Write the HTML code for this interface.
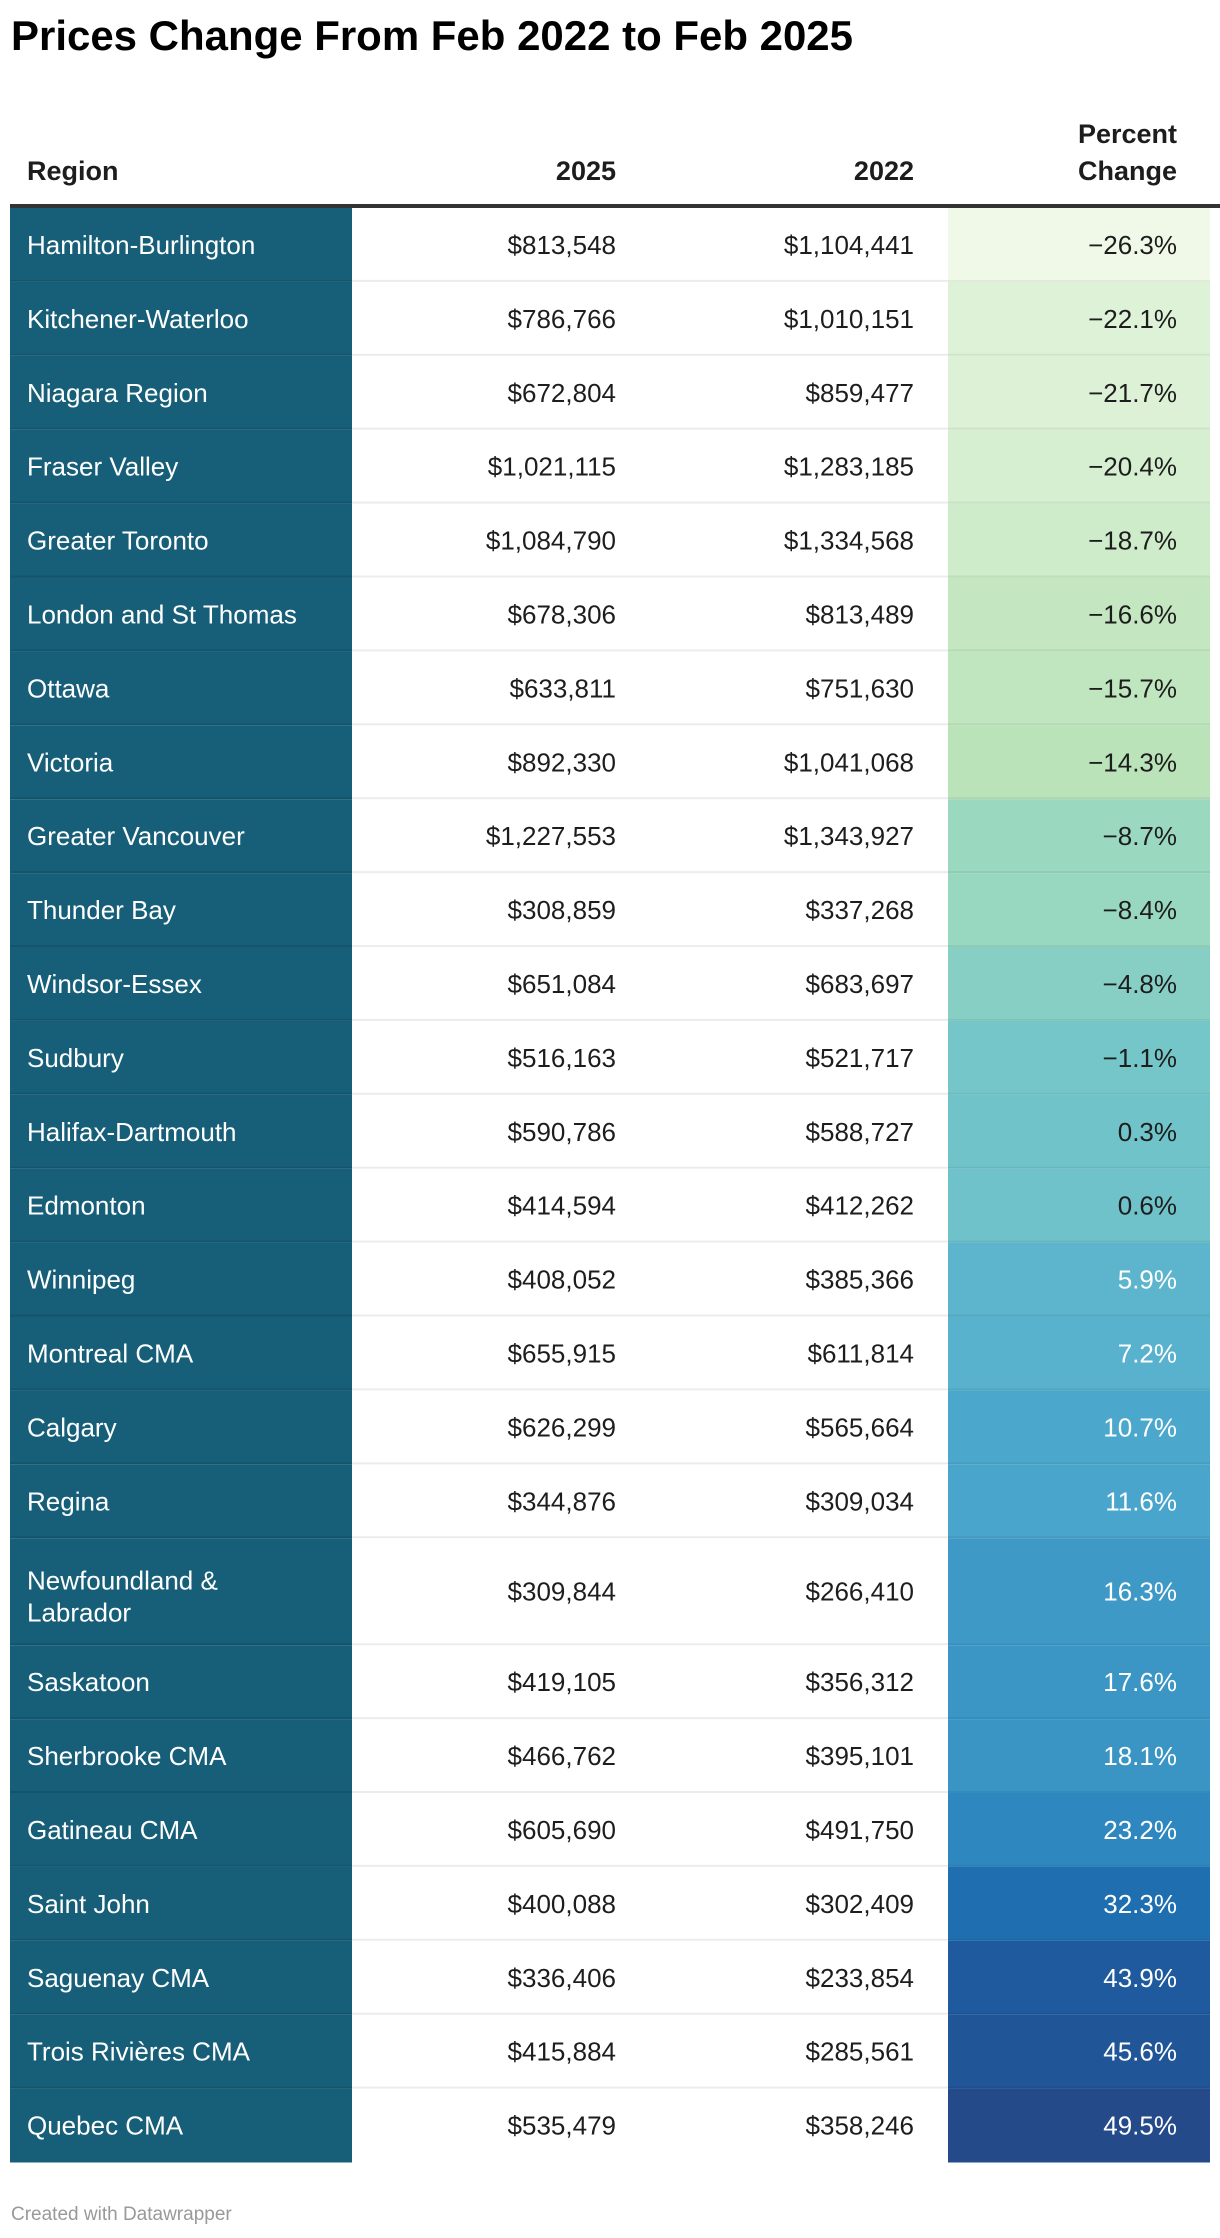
<!DOCTYPE html>
<html><head><meta charset="utf-8"><style>
html,body{margin:0;padding:0;background:#fff;}
svg{display:block;font-family:"Liberation Sans",Arial,sans-serif;}
</style></head><body>
<svg id="chart" width="1220" height="2238" viewBox="0 0 1220 2238" xmlns="http://www.w3.org/2000/svg">
<text x="11" y="50" font-size="42" font-weight="bold" fill="#000" textLength="842" lengthAdjust="spacingAndGlyphs">Prices Change From Feb 2022 to Feb 2025</text>
<g font-size="27" font-weight="bold" fill="#1d1d1d">
<text x="27" y="180">Region</text>
<text x="616" y="180" text-anchor="end">2025</text>
<text x="914" y="180" text-anchor="end">2022</text>
<text x="1177" y="143" text-anchor="end">Percent</text>
<text x="1177" y="180" text-anchor="end">Change</text>
</g>
<rect x="10" y="204" width="1210" height="4" fill="#333"/>
<g id="rows"></g>
<text x="11" y="2220" font-size="19" fill="#999">Created with Datawrapper</text>
</svg>
<script>
const regions = ["Hamilton-Burlington","Kitchener-Waterloo","Niagara Region","Fraser Valley","Greater Toronto","London and St Thomas","Ottawa","Victoria","Greater Vancouver","Thunder Bay","Windsor-Essex","Sudbury","Halifax-Dartmouth","Edmonton","Winnipeg","Montreal CMA","Calgary","Regina","Newfoundland & Labrador","Saskatoon","Sherbrooke CMA","Gatineau CMA","Saint John","Saguenay CMA","Trois Rivières CMA","Quebec CMA"];
const price2025 = [813548,786766,672804,1021115,1084790,678306,633811,892330,1227553,308859,651084,516163,590786,414594,408052,655915,626299,344876,309844,419105,466762,605690,400088,336406,415884,535479];
const price2022 = [1104441,1010151,859477,1283185,1334568,813489,751630,1041068,1343927,337268,683697,521717,588727,412262,385366,611814,565664,309034,266410,356312,395101,491750,302409,233854,285561,358246];
const pctChange = [-26.3,-22.1,-21.7,-20.4,-18.7,-16.6,-15.7,-14.3,-8.7,-8.4,-4.8,-1.1,0.3,0.6,5.9,7.2,10.7,11.6,16.3,17.6,18.1,23.2,32.3,43.9,45.6,49.5];

const stops=[[-26.3,[240,249,232]],[-20,[212,238,207]],[-14.3,[186,227,186]],[-8.5,[154,216,192]],[-1,[116,198,200]],[6,[92,181,205]],[11,[74,167,204]],[18,[58,149,197]],[23,[47,136,191]],[32,[31,112,176]],[44,[30,90,157]],[49.5,[37,74,137]]];
function colorFor(v){
  if(v<=stops[0][0])return 'rgb('+stops[0][1].join(',')+')';
  for(let i=1;i<stops.length;i++){
    if(v<=stops[i][0]){const a=stops[i-1],b=stops[i];const t=(v-a[0])/(b[0]-a[0]);
      return 'rgb('+a[1].map((c,k)=>Math.round(c+(b[1][k]-c)*t)).join(',')+')';}
  }
  return 'rgb('+stops[stops.length-1][1].join(',')+')';
}
const fmt=n=>'$'+n.toLocaleString('en-US');
const fmtP=v=>(v<0?'\u2212':'')+Math.abs(v).toFixed(1)+'%';
const NS='http://www.w3.org/2000/svg';
const g=document.getElementById('rows');
const rowH=73.9, tallH=107;
let y=208;
function mk(tag,attrs,txt){const e=document.createElementNS(NS,tag);for(const k in attrs)e.setAttribute(k,attrs[k]);if(txt!==undefined)e.textContent=txt;return e;}
regions.forEach((r,i)=>{
  const tall=r.length>22;
  const h=tall?tallH:rowH;
  const row=mk('g',{});
  
  
  const rc=mk('rect',{x:10,y:y,width:342,height:h,fill:'#175f78'});
  
  
  row.appendChild(rc);
  const pc=mk('rect',{x:948,y:y,width:262,height:h,fill:colorFor(pctChange[i])});
  
  
  row.appendChild(pc);
  if(i<regions.length-1){
    const l1=mk('rect',{x:352,y:y+h-2,width:596,height:2,fill:'#ececec'});
    
    
    row.appendChild(l1);
    const l2=mk('rect',{x:10,y:y+h-2,width:342,height:2,fill:'rgba(0,0,0,0.1)'});
    
    
    row.appendChild(l2);
    const l3=mk('rect',{x:948,y:y+h-2,width:262,height:2,fill:'rgba(0,0,0,0.06)'});
    
    
    row.appendChild(l3);
  }
  const base=y+h/2+9;
  if(tall){
    const sp=r.indexOf('&')+1;
    const t1=mk('text',{x:27,y:y+h/2-2,'font-size':26,fill:'#fff'},r.slice(0,sp));
    
    
    row.appendChild(t1);
    const t2=mk('text',{x:27,y:y+h/2+30,'font-size':26,fill:'#fff'},r.slice(sp+1));
    
    
    row.appendChild(t2);
  } else {
    const t=mk('text',{x:27,y:base,'font-size':26,fill:'#fff'},r);
    
    
    row.appendChild(t);
  }
  const a=mk('text',{x:616,y:base,'font-size':26,fill:'#1d1d1d','text-anchor':'end'},fmt(price2025[i]));
  
  
  row.appendChild(a);
  const b=mk('text',{x:914,y:base,'font-size':26,fill:'#1d1d1d','text-anchor':'end'},fmt(price2022[i]));
  
  
  row.appendChild(b);
  const p=mk('text',{x:1177,y:base,'font-size':26,fill:pctChange[i]>5?'#fff':'#1d1d1d','text-anchor':'end'},fmtP(pctChange[i]));
  
  
  row.appendChild(p);
  g.appendChild(row);
  y+=h;
});
</script>
</body></html>
